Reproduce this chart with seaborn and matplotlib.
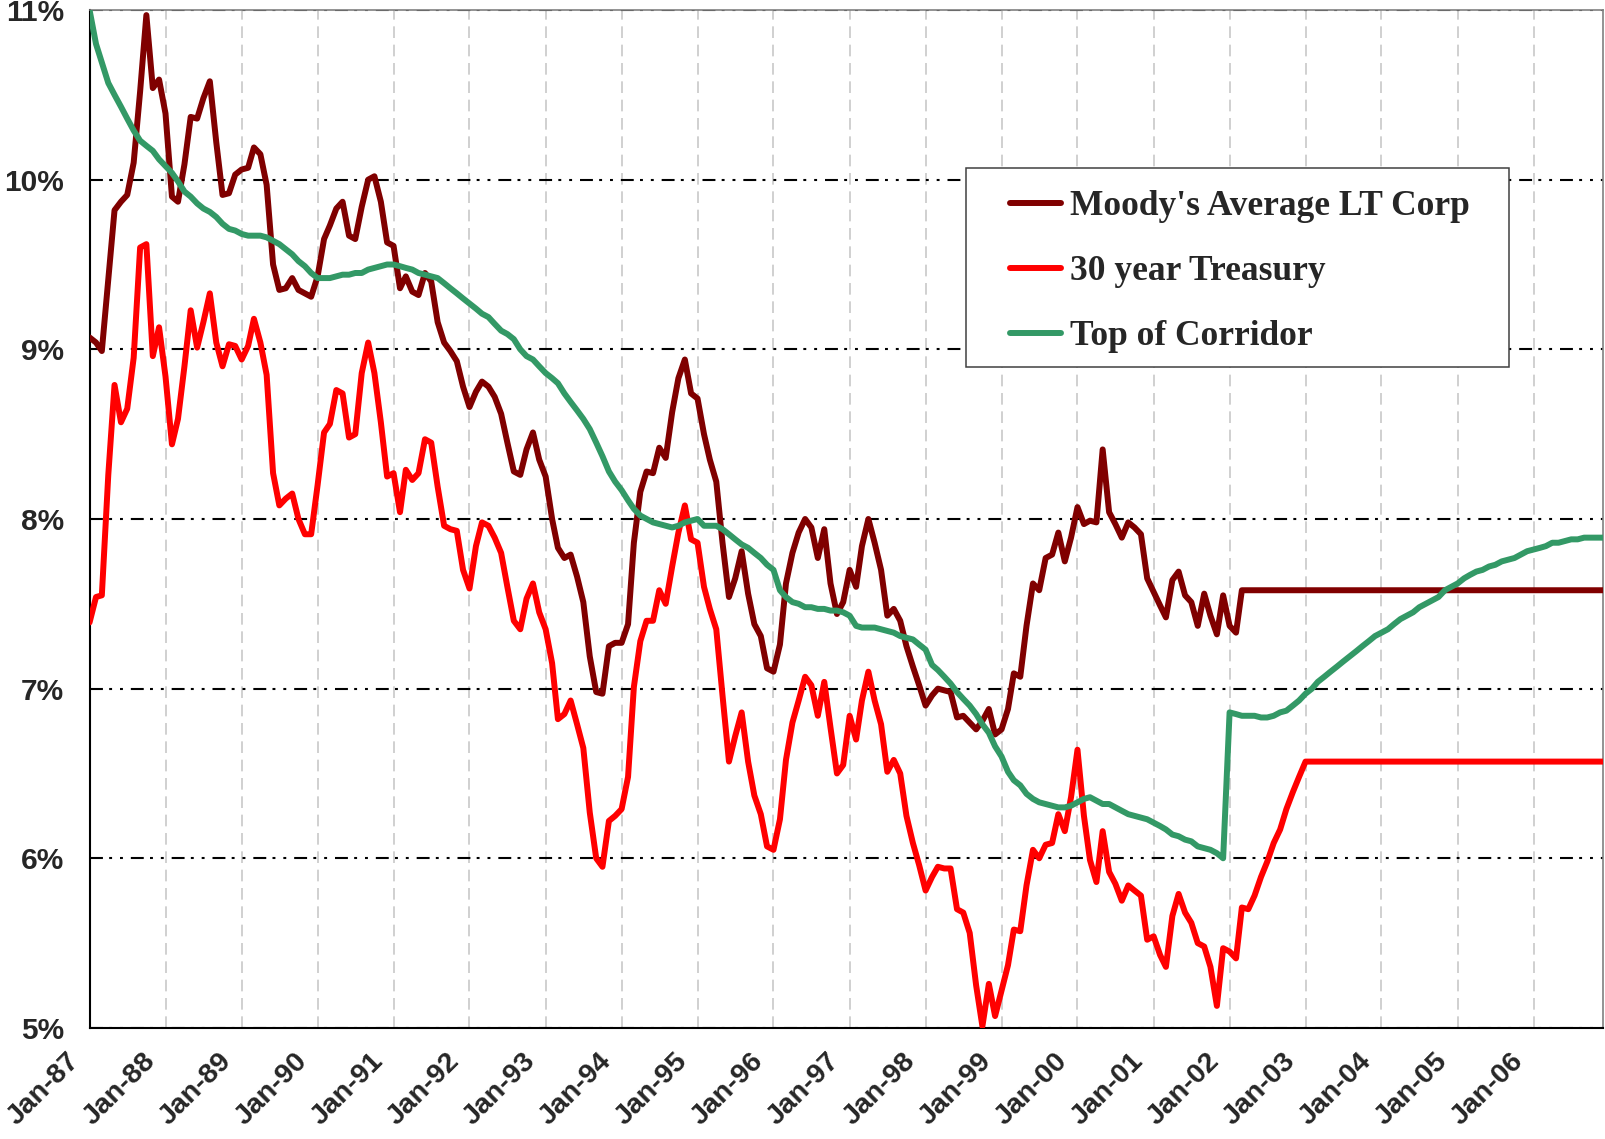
import pandas as pd
import matplotlib
matplotlib.use('Agg')
import matplotlib.pyplot as plt
import matplotlib.dates as mdates
from matplotlib.patches import Rectangle
from matplotlib.transforms import ScaledTranslation
import seaborn as sns

# monthly axis, Jan-87 .. Dec-06
months = pd.date_range('1987-01-01', '2006-12-01', freq='MS')

# Moody's Average LT Corp, Jan-87 .. Mar-02, then held flat to the end
moody = [
    9.07, 9.04, 8.99, 9.41, 9.82, 9.87, 9.91, 10.10, 10.52, 10.97, 10.54, 10.59,
    10.39, 9.90, 9.87, 10.09, 10.37, 10.36, 10.48, 10.58, 10.22, 9.91, 9.92, 10.03,
    10.06, 10.07, 10.19, 10.15, 9.97, 9.50, 9.35, 9.36, 9.42, 9.35, 9.33, 9.31,
    9.43, 9.65, 9.73, 9.83, 9.87, 9.67, 9.65, 9.84, 10.00, 10.02, 9.87, 9.63,
    9.61, 9.36, 9.43, 9.34, 9.32, 9.45, 9.40, 9.16, 9.04, 8.99, 8.93, 8.78,
    8.66, 8.75, 8.81, 8.78, 8.72, 8.62, 8.45, 8.28, 8.26, 8.41, 8.51, 8.35,
    8.25, 8.00, 7.83, 7.77, 7.79, 7.66, 7.51, 7.19, 6.98, 6.97, 7.25, 7.27,
    7.27, 7.38, 7.86, 8.16, 8.28, 8.27, 8.42, 8.36, 8.63, 8.83, 8.94, 8.74,
    8.71, 8.50, 8.35, 8.22, 7.86, 7.54, 7.65, 7.81, 7.56, 7.38, 7.31, 7.12,
    7.10, 7.26, 7.62, 7.80, 7.92, 8.00, 7.95, 7.77, 7.94, 7.62, 7.44, 7.51,
    7.70, 7.60, 7.84, 8.00, 7.86, 7.70, 7.43, 7.47, 7.40, 7.25, 7.13, 7.02,
    6.90, 6.96, 7.00, 6.99, 6.98, 6.83, 6.84, 6.80, 6.76, 6.81, 6.88, 6.73,
    6.76, 6.88, 7.09, 7.07, 7.37, 7.62, 7.58, 7.77, 7.79, 7.92, 7.75, 7.89,
    8.07, 7.97, 7.99, 7.98, 8.41, 8.04, 7.97, 7.89, 7.98, 7.95, 7.91, 7.65,
    7.57, 7.49, 7.42, 7.64, 7.69, 7.55, 7.51, 7.37, 7.56, 7.43, 7.32, 7.55,
    7.37, 7.33, 7.58,
]
moody_end = 7.58

# 30 year Treasury, Jan-87 .. Jan-03, then held flat to the end
treasury = [
    7.39, 7.54, 7.55, 8.26, 8.79, 8.57, 8.65, 8.95, 9.60, 9.62, 8.96, 9.13,
    8.84, 8.44, 8.59, 8.90, 9.23, 9.01, 9.16, 9.33, 9.04, 8.90, 9.03, 9.02,
    8.94, 9.02, 9.18, 9.04, 8.85, 8.27, 8.08, 8.12, 8.15, 8.00, 7.91, 7.91,
    8.20, 8.51, 8.56, 8.76, 8.74, 8.48, 8.50, 8.86, 9.04, 8.86, 8.57, 8.25,
    8.27, 8.04, 8.29, 8.23, 8.27, 8.47, 8.45, 8.19, 7.96, 7.94, 7.93, 7.70,
    7.59, 7.84, 7.98, 7.96, 7.89, 7.80, 7.60, 7.40, 7.35, 7.53, 7.62, 7.45,
    7.35, 7.15, 6.82, 6.85, 6.93, 6.79, 6.65, 6.27, 6.00, 5.95, 6.22, 6.25,
    6.29, 6.48, 7.01, 7.28, 7.40, 7.40, 7.58, 7.50, 7.72, 7.92, 8.08, 7.88,
    7.86, 7.60, 7.47, 7.35, 6.96, 6.57, 6.72, 6.86, 6.57, 6.37, 6.26, 6.07,
    6.05, 6.23, 6.58, 6.80, 6.93, 7.07, 7.02, 6.84, 7.04, 6.77, 6.50, 6.55,
    6.84, 6.70, 6.93, 7.10, 6.93, 6.79, 6.51, 6.58, 6.50, 6.25, 6.09, 5.96,
    5.81, 5.89, 5.95, 5.94, 5.94, 5.70, 5.68, 5.56, 5.25, 5.01, 5.26, 5.07,
    5.22, 5.37, 5.58, 5.57, 5.84, 6.05, 6.00, 6.08, 6.09, 6.26, 6.16, 6.36,
    6.64, 6.25, 5.99, 5.86, 6.16, 5.92, 5.85, 5.75, 5.84, 5.81, 5.78, 5.52,
    5.54, 5.43, 5.36, 5.66, 5.79, 5.68, 5.62, 5.50, 5.48, 5.36, 5.13, 5.47,
    5.45, 5.41, 5.71, 5.70, 5.78, 5.89, 5.98, 6.09, 6.17, 6.29, 6.39, 6.48,
    6.57,
]
treasury_end = 6.57

# Top of Corridor, full period
corridor = [
    11.00, 10.80, 10.69, 10.57, 10.50, 10.43, 10.36, 10.29, 10.23, 10.20, 10.17, 10.12,
    10.08, 10.04, 9.99, 9.93, 9.90, 9.86, 9.83, 9.81, 9.78, 9.74, 9.71, 9.70,
    9.68, 9.67, 9.67, 9.67, 9.66, 9.64, 9.62, 9.59, 9.56, 9.52, 9.49, 9.45,
    9.42, 9.42, 9.42, 9.43, 9.44, 9.44, 9.45, 9.45, 9.47, 9.48, 9.49, 9.50,
    9.50, 9.49, 9.48, 9.47, 9.45, 9.44, 9.43, 9.42, 9.39, 9.36, 9.33, 9.30,
    9.27, 9.24, 9.21, 9.19, 9.15, 9.11, 9.09, 9.06, 9.00, 8.96, 8.94, 8.90,
    8.86, 8.83, 8.80, 8.74, 8.69, 8.64, 8.59, 8.53, 8.45, 8.37, 8.28, 8.22,
    8.17, 8.11, 8.06, 8.02, 8.00, 7.98, 7.97, 7.96, 7.95, 7.96, 7.98, 7.99,
    8.00, 7.96, 7.96, 7.96, 7.94, 7.91, 7.88, 7.85, 7.83, 7.80, 7.77, 7.73,
    7.70, 7.58, 7.54, 7.51, 7.50, 7.48, 7.48, 7.47, 7.47, 7.46, 7.46, 7.45,
    7.43, 7.37, 7.36, 7.36, 7.36, 7.35, 7.34, 7.33, 7.31, 7.30, 7.29, 7.26,
    7.23, 7.14, 7.11, 7.07, 7.03, 6.98, 6.94, 6.90, 6.85, 6.79, 6.74, 6.66,
    6.60, 6.51, 6.46, 6.43, 6.38, 6.35, 6.33, 6.32, 6.31, 6.30, 6.30, 6.31,
    6.33, 6.35, 6.36, 6.34, 6.32, 6.32, 6.30, 6.28, 6.26, 6.25, 6.24, 6.23,
    6.21, 6.19, 6.17, 6.14, 6.13, 6.11, 6.10, 6.07, 6.06, 6.05, 6.03, 6.00,
    6.86, 6.85, 6.84, 6.84, 6.84, 6.83, 6.83, 6.84, 6.86, 6.87, 6.90, 6.93,
    6.97, 7.00, 7.04, 7.07, 7.10, 7.13, 7.16, 7.19, 7.22, 7.25, 7.28, 7.31,
    7.33, 7.35, 7.38, 7.41, 7.43, 7.45, 7.48, 7.50, 7.52, 7.54, 7.58, 7.60,
    7.62, 7.65, 7.67, 7.69, 7.70, 7.72, 7.73, 7.75, 7.76, 7.77, 7.79, 7.81,
    7.82, 7.83, 7.84, 7.86, 7.86, 7.87, 7.88, 7.88, 7.89, 7.89, 7.89, 7.89,
]

series_names = ["Moody's Average LT Corp", "30 year Treasury", "Top of Corridor"]
series_colors = ['#800000', '#FF0000', '#339966']
y_ticks = [5, 6, 7, 8, 9, 10, 11]
y_tick_labels = ['5%', '6%', '7%', '8%', '9%', '10%', '11%']

sns.set_style('white')
plt.rcParams['font.family'] = ['Liberation Sans', 'DejaVu Sans']

fig = plt.figure(figsize=(16.05, 11.39), dpi=100)
ax = fig.add_axes([0.0558, 0.0975, 0.9430, 0.8937])

moody_x = list(months[:len(moody)]) + [months[-1]]
moody_y = moody + [moody_end]
tsy_x = list(months[:len(treasury)]) + [months[-1]]
tsy_y = treasury + [treasury_end]

line_kw = dict(linewidth=4.3, solid_joinstyle='round', solid_capstyle='round', zorder=3)
sns.lineplot(x=moody_x, y=moody_y, color=series_colors[0], label=series_names[0], ax=ax, **line_kw)
sns.lineplot(x=tsy_x, y=tsy_y, color=series_colors[1], label=series_names[1], ax=ax, **line_kw)
sns.lineplot(x=months, y=corridor, color=series_colors[2], label=series_names[2], ax=ax, **line_kw)

ax.set_xlim(months[0], months[-1])
ax.set_ylim(5, 11)
ax.set_xlabel('')
ax.set_ylabel('')

ax.xaxis.set_major_locator(mdates.YearLocator())
ax.xaxis.set_major_formatter(mdates.DateFormatter('%b-%y'))
ax.set_yticks(y_ticks)
ax.set_yticklabels(y_tick_labels)

ax.tick_params(axis='y', direction='out', length=6.5, width=1.2, color='black',
               pad=12, labelsize=21.5)
ax.tick_params(axis='x', direction='inout', length=13, width=1.2, color='black',
               pad=8, labelsize=20.5)
for lab in ax.get_yticklabels():
    lab.set_fontweight('bold')
for lab in ax.get_xticklabels():
    lab.set_fontweight('bold')
    lab.set_rotation(45)
    lab.set_ha('right')
    lab.set_transform(lab.get_transform() + ScaledTranslation(-0.05, 0, fig.dpi_scale_trans))

# grid: dash-dot-dot horizontals, light dashed verticals
ax.yaxis.grid(True, color='black', linewidth=1.5, linestyle=(0, (6.2, 3.0, 1.4, 3.8, 1.4, 3.8)), zorder=1)
ax.xaxis.grid(True, color='#c8c8c8', linewidth=1.2, linestyle=(0, (7, 4)), zorder=1)
ax.set_axisbelow(True)

for side in ['left', 'bottom']:
    ax.spines[side].set_color('black')
    ax.spines[side].set_linewidth(1.5)
for side in ['top', 'right']:
    ax.spines[side].set_color('#808080')
    ax.spines[side].set_linewidth(1.2)

# legend box
ax.add_patch(Rectangle((0.579, 0.649), 0.359, 0.196, transform=ax.transAxes,
                       facecolor='white', edgecolor='#404040', linewidth=1.1, zorder=6))
handles, labels = ax.get_legend_handles_labels()
ax.get_legend().remove()
leg = ax.legend(handles, labels, loc='upper left', bbox_to_anchor=(0.608, 0.823),
                frameon=False, borderpad=0, borderaxespad=0, handlelength=1.45,
                handletextpad=0.25, labelspacing=0.9,
                prop={'family': 'Liberation Serif', 'weight': 'bold', 'size': 25.5})
leg.set_zorder(7)

fig.savefig('out.png', dpi=100)
